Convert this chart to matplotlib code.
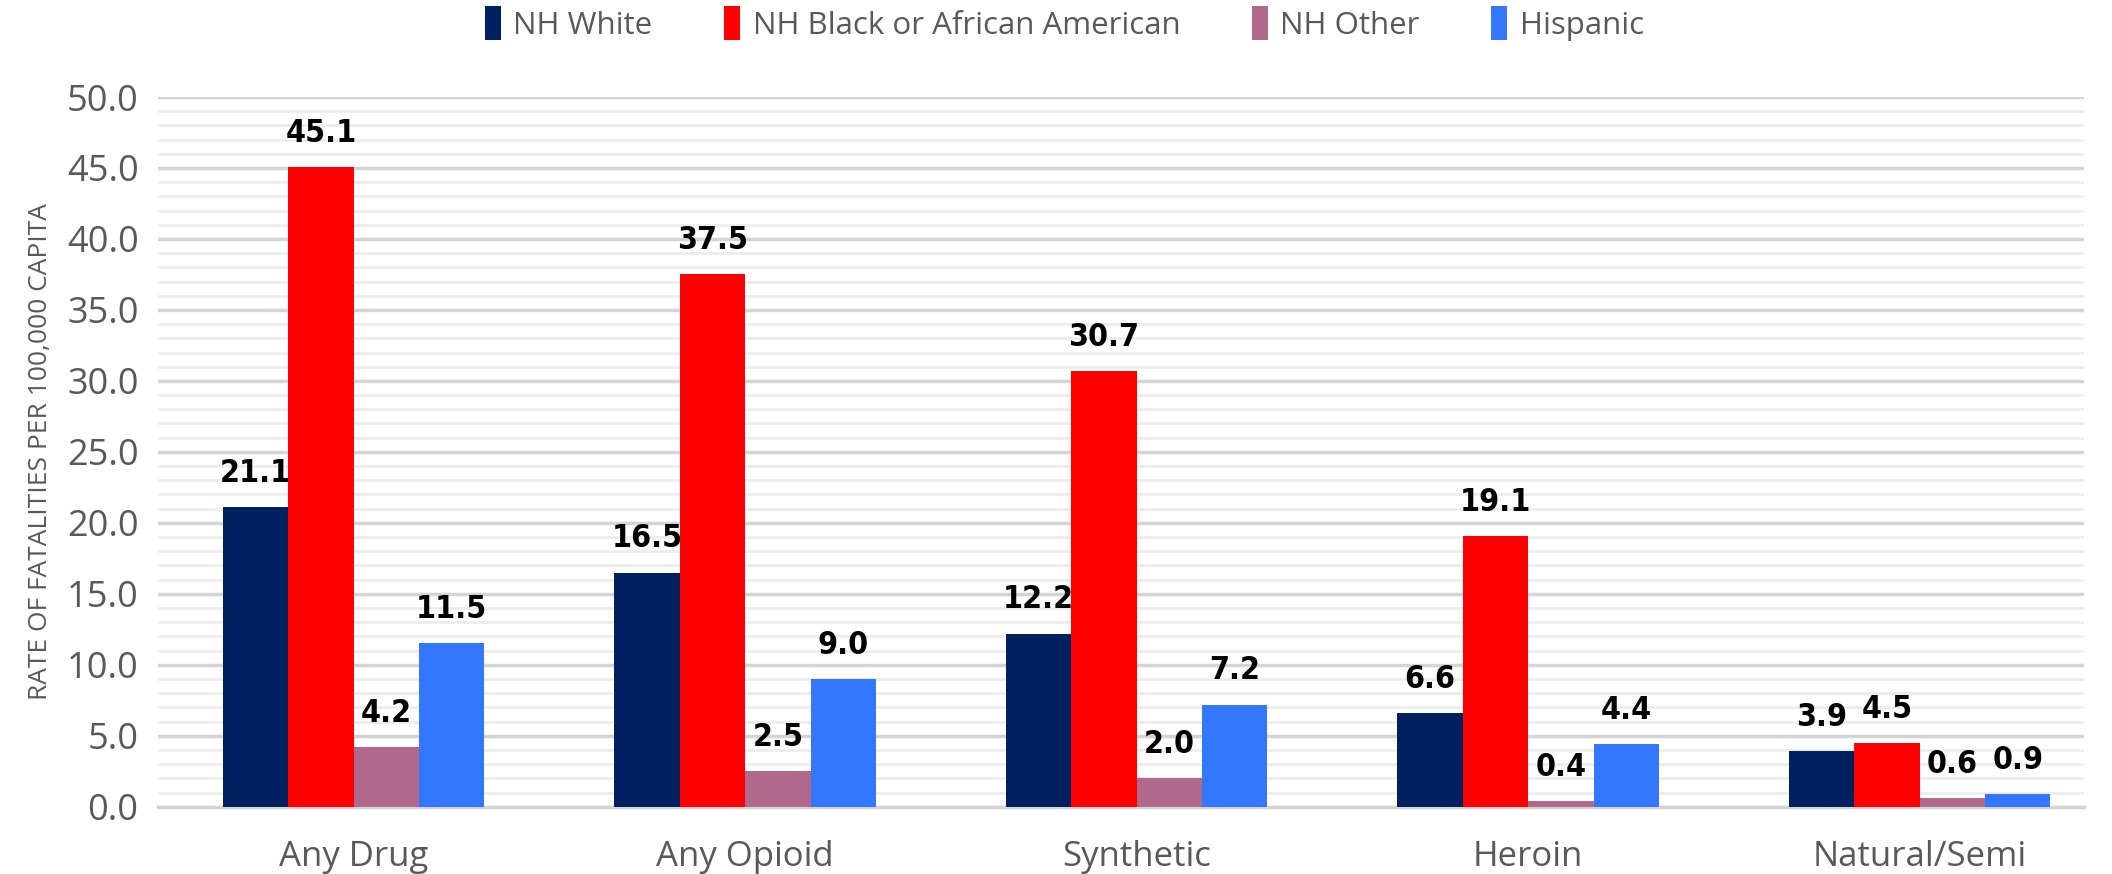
import numpy as np
import matplotlib.pyplot as plt
from matplotlib.ticker import MultipleLocator

categories = ["Any Drug", "Any Opioid", "Synthetic", "Heroin", "Natural/Semi"]
series_names = ["NH White", "NH Black or African American", "NH Other", "Hispanic"]
nh_white = [21.1, 16.5, 12.2, 6.6, 3.9]
nh_black = [45.1, 37.5, 30.7, 19.1, 4.5]
nh_other = [4.2, 2.5, 2.0, 0.4, 0.6]
hispanic = [11.5, 9.0, 7.2, 4.4, 0.9]
colors = ["#002060", "#FF0000", "#B0698B", "#3377FF"]

tick_color = "#595959"
fam = ["Open Sans", "DejaVu Sans"]
fig = plt.figure(figsize=(21.12, 8.74), dpi=100)
ax = fig.add_axes([0.0748, 0.077, 0.912, 0.812])

x = np.arange(len(categories))
w = 0.167
for i, (vals, name, c) in enumerate(zip([nh_white, nh_black, nh_other, hispanic], series_names, colors)):
    pos = x + (i - 1.5) * w
    ax.bar(pos, vals, width=w, color=c, label=name, zorder=3)
    for p, v in zip(pos, vals):
        ax.annotate(f"{v:.1f}", (p, v), xytext=(0, 13), textcoords="offset points",
                    ha="center", va="bottom", fontsize=23, fontweight="bold",
                    family="DejaVu Sans", fontstretch="condensed", color="black")

ax.set_xlim(-0.5, len(categories) - 0.58)
ax.set_ylim(0, 50)
ax.yaxis.set_minor_locator(MultipleLocator(1))
ax.set_yticks(np.arange(0, 51, 5))
ax.set_yticklabels([f"{v:.1f}" for v in np.arange(0, 51, 5)])
ax.grid(axis="y", which="major", color="#D4D4D4", linewidth=2.5, zorder=0)
ax.grid(axis="y", which="minor", color="#EDEDED", linewidth=2, zorder=0)
ax.set_axisbelow(True)
for s in ["top", "right", "left"]:
    ax.spines[s].set_visible(False)
ax.spines["bottom"].set_color("#D4D4D4")
ax.spines["bottom"].set_linewidth(2.5)
ax.tick_params(axis="both", which="both", length=0, colors=tick_color)
ax.tick_params(axis="y", labelsize=26, pad=14)
ax.tick_params(axis="x", labelsize=25, pad=24)
ax.set_xticks(x)
ax.set_xticklabels(categories)
for lab in ax.get_xticklabels() + ax.get_yticklabels():
    lab.set_family(fam)
ax.set_ylabel("RATE OF FATALITIES PER 100,000 CAPITA", fontsize=19, color=tick_color,
              family=fam, labelpad=10)

leg = fig.legend(loc="center", bbox_to_anchor=(0.504, 0.973), ncol=4, frameon=False,
                 handlelength=0.5, handleheight=1.3, columnspacing=2.3,
                 handletextpad=0.4, prop={"family": fam, "size": 22.5})
for t in leg.get_texts():
    t.set_color(tick_color)

fig.savefig("out.png", dpi=100)
